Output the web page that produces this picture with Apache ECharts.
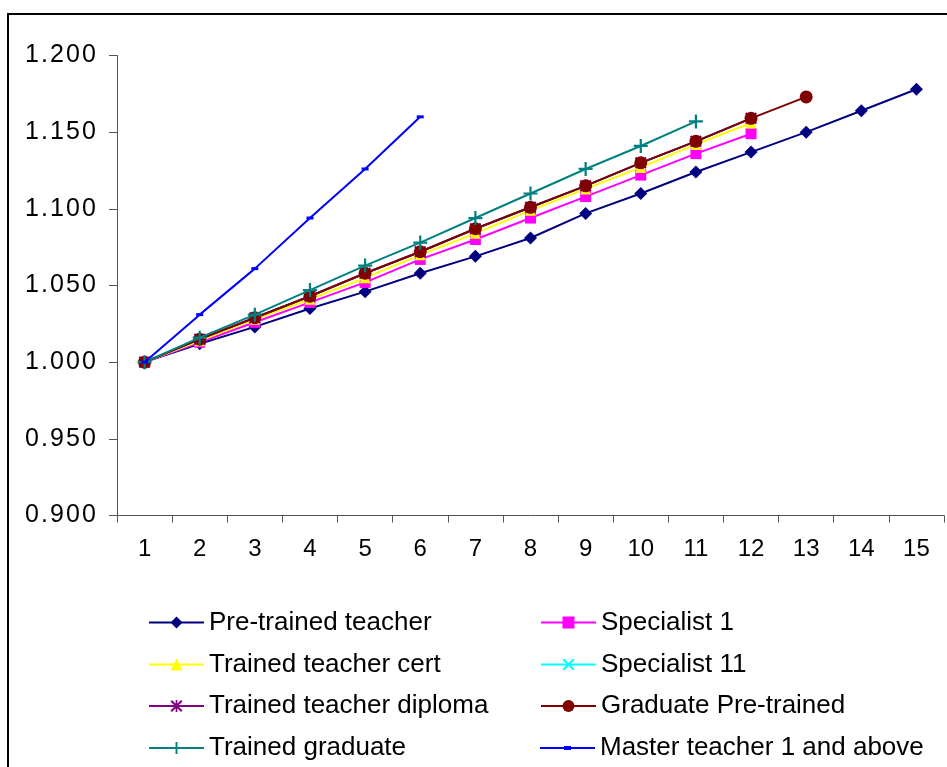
<!DOCTYPE html>
<html>
<head>
<meta charset="utf-8">
<script src="https://cdn.jsdelivr.net/npm/echarts@6/dist/echarts.min.js"></script>
<style>
  html, body { margin: 0; padding: 0; background: #fff; }
  #chart { width: 947px; height: 767px; }
</style>
</head>
<body>
<div id="chart"></div>
<script>
// Step index along the x axis
const categories = ['1','2','3','4','5','6','7','8','9','10','11','12','13','14','15'];

// Cumulative index per grade (1.000 at step 1)
const preTrained      = [1.000,1.012,1.023,1.035,1.046,1.058,1.069,1.081,1.097,1.110,1.124,1.137,1.150,1.164,1.178];
const specialist1     = [1.000,1.013,1.026,1.039,1.052,1.067,1.080,1.094,1.108,1.122,1.136,1.149];
const trainedCert     = [1.000,1.014,1.028,1.041,1.055,1.070,1.084,1.099,1.113,1.127,1.142,1.156];
const specialist11    = [1.000,1.015,1.029,1.043,1.058,1.072,1.087,1.101,1.115,1.130,1.144,1.159];
const trainedDiploma  = [1.000,1.015,1.029,1.043,1.058,1.072,1.087,1.101,1.115,1.130,1.144,1.159];
const graduatePre     = [1.000,1.015,1.029,1.043,1.058,1.072,1.087,1.101,1.115,1.130,1.144,1.159,1.173];
const trainedGraduate = [1.000,1.016,1.031,1.047,1.063,1.078,1.094,1.110,1.126,1.141,1.157];
const masterTeacher   = [1.000,1.031,1.061,1.094,1.126,1.160];

const seriesNames = [
  'Pre-trained teacher', 'Specialist 1',
  'Trained teacher cert', 'Specialist 11',
  'Trained teacher diploma', 'Graduate Pre-trained',
  'Trained graduate', 'Master teacher 1 and above'
];

// Marker shapes
const PLUS = 'path://M0,4.2H10V5.8H0Z M4.2,0H5.8V10H4.2Z';
const CROSS = 'path://M0,1.2L1.2,0L10,8.8L8.8,10Z M8.8,0L10,1.2L1.2,10L0,8.8Z';
const STAR = 'path://M0,1.2L1.2,0L10,8.8L8.8,10Z M8.8,0L10,1.2L1.2,10L0,8.8Z M4.3,0H5.7V10H4.3Z';
// Legend sample for the dash marker: line with a short bar in the middle
const DASH_LEGEND = 'path://M0,1H55V3H0Z M24,0H31V4H24Z';

const styles = [
  { data: preTrained,      color: '#000080', symbol: 'diamond',  size: 13 },
  { data: specialist1,     color: '#FF00FF', symbol: 'rect',     size: 11 },
  { data: trainedCert,     color: '#FFFF00', symbol: 'triangle', size: 11 },
  { data: specialist11,    color: '#00FFFF', symbol: CROSS,      size: 11 },
  { data: trainedDiploma,  color: '#800080', symbol: STAR,       size: 12 },
  { data: graduatePre,     color: '#800000', symbol: 'circle',   size: 13 },
  { data: trainedGraduate, color: '#008080', symbol: PLUS,       size: 14 },
  { data: masterTeacher,   color: '#0000FF', symbol: 'rect',     size: [7, 3] }
];

const series = styles.map((s, i) => ({
  name: seriesNames[i],
  type: 'line',
  data: s.data,
  symbol: s.symbol,
  symbolSize: s.size,
  showSymbol: true,
  lineStyle: { color: s.color, width: 2 },
  itemStyle: { color: s.color, borderWidth: 0 },
  emphasis: { disabled: true },
  z: 2 + i
}));

// Two-column legend, one component per entry
const rowCenters = [617, 659, 700.5, 742.5];
const colLefts = [148, 540];
const legends = seriesNames.map((name, i) => ({
  data: [i === 7 ? { name: name, icon: DASH_LEGEND } : name],
  left: colLefts[i % 2],
  top: rowCenters[Math.floor(i / 2)] - 7.5,
  padding: 0,
  itemWidth: 55,
  itemHeight: 15,
  selectedMode: false,
  textStyle: { fontFamily: 'Liberation Sans', fontSize: 26, color: '#000' }
}));

// Value labels drawn with a fixed advance per character
function spacedLabel(v) {
  return v.toFixed(3).split('').map(c => (c === '.' ? '{p|.}' : '{d|' + c + '}')).join('');
}

const chart = echarts.init(document.getElementById('chart'), null, { renderer: 'canvas' });
chart.setOption({
  animation: false,
  backgroundColor: '#fff',
  grid: { left: 117, top: 55.5, right: 3, bottom: 251.5, containLabel: false },
  legend: legends,
  xAxis: {
    type: 'category',
    data: categories,
    boundaryGap: true,
    axisLine: { lineStyle: { color: '#555', width: 1 } },
    axisTick: { show: true, length: 7, lineStyle: { color: '#555' }, alignWithLabel: false },
    axisLabel: { fontFamily: 'Liberation Sans', fontSize: 24, color: '#000', margin: 22 },
    splitLine: { show: false }
  },
  yAxis: {
    type: 'value',
    min: 0.9,
    max: 1.2,
    interval: 0.05,
    axisLine: { show: true, lineStyle: { color: '#555', width: 1 } },
    axisTick: { show: true, length: 8, lineStyle: { color: '#555' } },
    axisLabel: {
      color: '#000', margin: 20,
      formatter: spacedLabel,
      rich: {
        d: { fontFamily: 'Liberation Sans', fontSize: 25, color: '#000', width: 16, align: 'center' },
        p: { fontFamily: 'Liberation Sans', fontSize: 25, color: '#000', width: 9, align: 'center' }
      }
    },
    splitLine: { show: false }
  },
  graphic: [{
    type: 'rect',
    shape: { x: 8, y: 14, width: 1000, height: 1000 },
    style: { fill: null, stroke: '#000', lineWidth: 2 },
    silent: true,
    z: 100
  }],
  series: series
});
</script>
</body>
</html>
